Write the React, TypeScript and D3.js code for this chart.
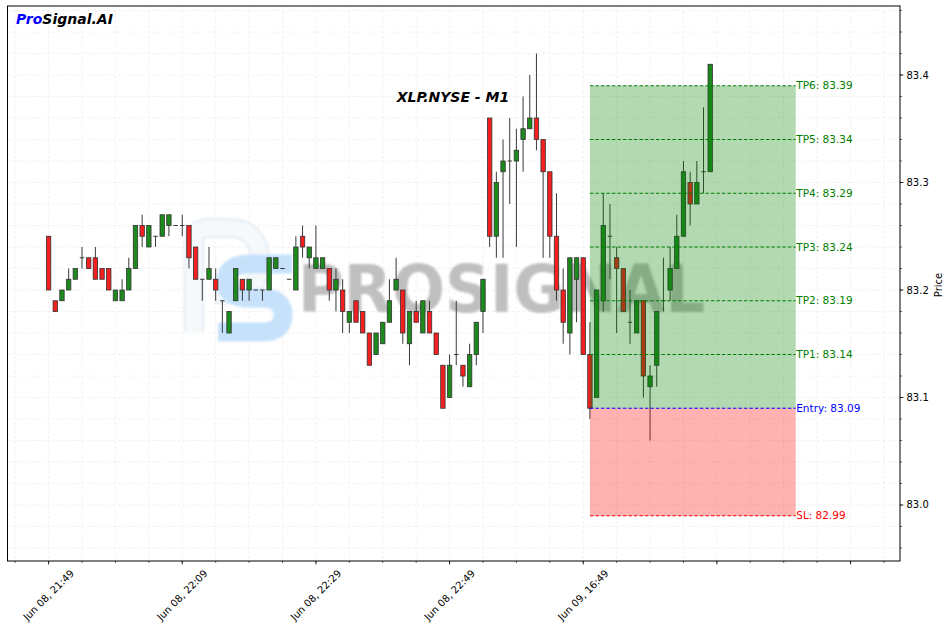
import React from 'react';
import * as d3 from 'd3';

const opens = [83.25,83.19,83.19,83.20,83.21,83.23,83.23,83.23,83.22,83.22,83.19,83.19,83.20,83.22,83.26,83.24,83.25,83.25,83.26,83.26,83.26,83.26,83.24,83.21,83.21,83.21,83.19,83.16,83.19,83.21,83.20,83.20,83.20,83.20,83.22,83.22,83.21,83.20,83.25,83.23,83.22,83.22,83.22,83.20,83.20,83.17,83.19,83.18,83.16,83.14,83.15,83.17,83.20,83.20,83.15,83.18,83.16,83.18,83.16,83.13,83.10,83.14,83.13,83.11,83.14,83.18,83.36,83.25,83.31,83.32,83.32,83.34,83.35,83.36,83.34,83.31,83.25,83.20,83.16,83.21,83.23,83.14,83.10,83.19,83.25,83.23,83.22,83.17,83.16,83.19,83.11,83.13,83.19,83.20,83.22,83.25,83.30,83.28,83.31,83.31];
const highs = [83.25,83.19,83.20,83.22,83.22,83.24,83.23,83.24,83.22,83.22,83.20,83.21,83.23,83.26,83.27,83.26,83.25,83.27,83.27,83.26,83.27,83.26,83.24,83.21,83.24,83.22,83.19,83.18,83.22,83.21,83.21,83.20,83.20,83.23,83.23,83.22,83.21,83.25,83.26,83.24,83.26,83.23,83.22,83.22,83.21,83.18,83.19,83.18,83.16,83.16,83.17,83.21,83.23,83.20,83.18,83.19,83.19,83.19,83.16,83.13,83.14,83.19,83.13,83.15,83.17,83.21,83.36,83.31,83.34,83.36,83.35,83.38,83.40,83.42,83.34,83.31,83.29,83.22,83.23,83.23,83.23,83.17,83.20,83.29,83.28,83.24,83.22,83.20,83.19,83.19,83.13,83.18,83.23,83.24,83.27,83.32,83.31,83.32,83.37,83.41];
const lows = [83.20,83.18,83.19,83.20,83.21,83.22,83.22,83.21,83.21,83.20,83.19,83.19,83.20,83.22,83.24,83.24,83.24,83.25,83.25,83.26,83.25,83.22,83.21,83.19,83.21,83.19,83.16,83.16,83.19,83.19,83.19,83.20,83.19,83.20,83.22,83.22,83.21,83.20,83.23,83.22,83.22,83.22,83.19,83.18,83.16,83.16,83.17,83.16,83.13,83.14,83.15,83.17,83.20,83.15,83.13,83.17,83.16,83.16,83.14,83.09,83.10,83.13,83.11,83.11,83.13,83.16,83.24,83.23,83.23,83.28,83.24,83.31,83.35,83.33,83.23,83.23,83.19,83.15,83.14,83.17,83.14,83.08,83.10,83.18,83.21,83.16,83.18,83.15,83.16,83.10,83.06,83.11,83.18,83.19,83.22,83.25,83.26,83.28,83.29,83.31];
const closes = [83.20,83.18,83.20,83.21,83.22,83.23,83.22,83.21,83.21,83.20,83.20,83.20,83.22,83.26,83.25,83.26,83.25,83.27,83.27,83.26,83.26,83.23,83.21,83.21,83.22,83.20,83.19,83.18,83.22,83.20,83.21,83.20,83.20,83.23,83.23,83.22,83.21,83.24,83.24,83.24,83.23,83.23,83.20,83.21,83.18,83.18,83.17,83.16,83.13,83.16,83.17,83.19,83.21,83.16,83.18,83.17,83.19,83.16,83.14,83.09,83.13,83.14,83.12,83.14,83.17,83.21,83.25,83.30,83.32,83.32,83.33,83.35,83.36,83.34,83.31,83.25,83.20,83.17,83.23,83.23,83.14,83.09,83.20,83.26,83.25,83.22,83.18,83.17,83.19,83.12,83.12,83.18,83.19,83.22,83.25,83.31,83.28,83.30,83.31,83.41];

const xTickIndex = [0, 20, 40, 60, 80, 100, 120];
const xTickLabels = ['Jun 08, 21:49', 'Jun 08, 22:09', 'Jun 08, 22:29', 'Jun 08, 22:49', 'Jun 09, 16:49', '', ''];
const yTickValues = [83.0, 83.1, 83.2, 83.3, 83.4];

const levelNames = ['SL', 'Entry', 'TP1', 'TP2', 'TP3', 'TP4', 'TP5', 'TP6'];
const levelValues = [82.99, 83.09, 83.14, 83.19, 83.24, 83.29, 83.34, 83.39];
const levelColors = ['#ff0000', '#0000ff', '#008000', '#008000', '#008000', '#008000', '#008000', '#008000'];
const zoneStartIndex = 81;
const zoneEndIndex = 111.8;

const W = 950, H = 629;
const L = 7.5, R = 900, T = 6, B = 561;
const FONT = 'DejaVu Sans, sans-serif';

export default function App() {
  const x = d3.scaleLinear().domain([-6.15, 127.4]).range([L, R]);
  const y = d3.scaleLinear().domain([82.9479, 83.4642]).range([B, T]);
  const n = opens.length;
  const bw = 4.4;

  const minorX = d3.range(-5, 128, 5);
  const minorY = d3.range(82.96, 83.47, 0.02);

  const entry = levelValues[1];
  const sl = levelValues[0];
  const tpMax = d3.max(levelValues.slice(2)) as number;

  return (
    <div style={{ position: 'absolute', left: 0, top: 0 }}>
      <svg width={W} height={H} style={{ display: 'block', fontFamily: FONT }}>
        <defs>
          <filter id="blur1" x="-10%" y="-10%" width="120%" height="120%">
            <feGaussianBlur stdDeviation="1.3" />
          </filter>
          <clipPath id="plotclip">
            <rect x={L} y={T} width={R - L} height={B - T} />
          </clipPath>
        </defs>
        <rect x={0} y={0} width={W} height={H} fill="#fff" />
        {/* grid */}
        <g stroke="#ececec" strokeWidth={0.8} strokeDasharray="2.5,2.5">
          {minorX.map((v) => (
            <line key={'gx' + v} x1={x(v)} x2={x(v)} y1={T} y2={B} />
          ))}
          {minorY.map((v, i) => (
            <line key={'gy' + i} x1={L} x2={R} y1={y(v)} y2={y(v)} />
          ))}
        </g>
        {/* watermark */}
        <g filter="url(#blur1)">
          <path d="M 194 332 L 194 240 Q 194 228 210 228 L 228 228 Q 260 228 260 262 Q 260 294 228 294 L 214 294"
            fill="none" stroke="#e4ecf3" strokeWidth={20} />
          <path d="M 194 332 L 194 240 Q 194 228 210 228 L 228 228 Q 260 228 260 262 Q 260 294 228 294 L 214 294"
            fill="none" stroke="#f6f9fc" strokeWidth={16} />
          <path d="M 292 264 L 250 264 Q 226 264 226 282 Q 226 298 250 298 L 262 298 Q 283 298 283 315 Q 283 332 262 332 L 218 332"
            fill="none" stroke="#c6e2fb" strokeWidth={19} />
          <text x={298} y={312} fontSize={66} fontWeight="bold" fill="#bfbfbf"
            textLength={407} lengthAdjust="spacingAndGlyphs" fontFamily={FONT}>PROSIGNAL</text>
        </g>
        {/* candles */}
        <g clipPath="url(#plotclip)">
          {d3.range(n).map((i) => {
            const o = opens[i], c = closes[i], h = highs[i], l = lows[i];
            const cx = x(i);
            const up = c >= o;
            const top = y(Math.max(o, c));
            const bot = y(Math.min(o, c));
            const doji = Math.abs(c - o) < 1e-9;
            return (
              <g key={'c' + i}>
                <line x1={cx} x2={cx} y1={y(h)} y2={y(l)} stroke="#3a3a3a" strokeWidth={1} />
                {doji ? (
                  <line x1={cx - bw / 2} x2={cx + bw / 2} y1={top} y2={top} stroke="#333" strokeWidth={1} />
                ) : (
                  <rect x={cx - bw / 2} y={top} width={bw} height={bot - top}
                    fill={up ? '#1d8a1d' : '#f41f1f'} stroke="#333" strokeWidth={0.8} />
                )}
              </g>
            );
          })}
        </g>
        {/* zones */}
        <rect x={x(zoneStartIndex)} y={y(tpMax)} width={x(zoneEndIndex) - x(zoneStartIndex)} height={y(entry) - y(tpMax)}
          fill="#008000" fillOpacity={0.3} />
        <rect x={x(zoneStartIndex)} y={y(entry)} width={x(zoneEndIndex) - x(zoneStartIndex)} height={y(sl) - y(entry)}
          fill="#ff0000" fillOpacity={0.3} />
        {levelValues.map((v, i) => (
          <g key={'lv' + i}>
            <line x1={x(zoneStartIndex)} x2={x(zoneEndIndex)} y1={y(v)} y2={y(v)} stroke={levelColors[i]}
              strokeWidth={1} strokeDasharray="3.5,2" />
            <text x={x(zoneEndIndex) + 0.5} y={y(v)} dy="0.35em" fontSize={10.5} fill={levelColors[i]}>
              {levelNames[i] + ': ' + v.toFixed(2)}
            </text>
          </g>
        ))}
        {/* frame */}
        <rect x={L} y={T} width={R - L} height={B - T} fill="none" stroke="#000" strokeWidth={1} />
        {/* x ticks */}
        {minorX.map((v) => (
          <line key={'mx' + v} x1={x(v)} x2={x(v)} y1={B} y2={B + 2} stroke="#000" strokeWidth={0.6} />
        ))}
        {xTickIndex.map((v, i) => (
          <g key={'xt' + v}>
            <line x1={x(v)} x2={x(v)} y1={B} y2={B + 3.5} stroke="#000" strokeWidth={0.8} />
            {xTickLabels[i] && (
              <text transform={`translate(${x(v)},${595}) rotate(-45)`} textAnchor="middle" dy="0.35em"
                fontSize={10} fill="#000">{xTickLabels[i]}</text>
            )}
          </g>
        ))}
        {/* y ticks */}
        {minorY.map((v, i) => (
          <line key={'my' + i} x1={R} x2={R + 2} y1={y(v)} y2={y(v)} stroke="#000" strokeWidth={0.6} />
        ))}
        {yTickValues.map((v) => (
          <g key={'yt' + v}>
            <line x1={R} x2={R + 3.5} y1={y(v)} y2={y(v)} stroke="#000" strokeWidth={0.8} />
            <text x={R + 6.5} y={y(v)} dy="0.35em" fontSize={10} fill="#000">{v.toFixed(1)}</text>
          </g>
        ))}
        <text transform={`translate(${938},${285}) rotate(-90)`} textAnchor="middle" dy="0.35em" fontSize={10}
          fill="#000">Price</text>
        {/* title */}
        <text x={453} y={97} dy="0.35em" textAnchor="middle" fontSize={14} fontWeight="bold" fontStyle="italic"
          fill="#000">XLP.NYSE - M1</text>
        <text x={16} y={24} fontSize={14} fontWeight="bold" fontStyle="italic">
          <tspan fill="#0000ff">Pro</tspan>
          <tspan fill="#000">Signal.AI</tspan>
        </text>
      </svg>
    </div>
  );
}
